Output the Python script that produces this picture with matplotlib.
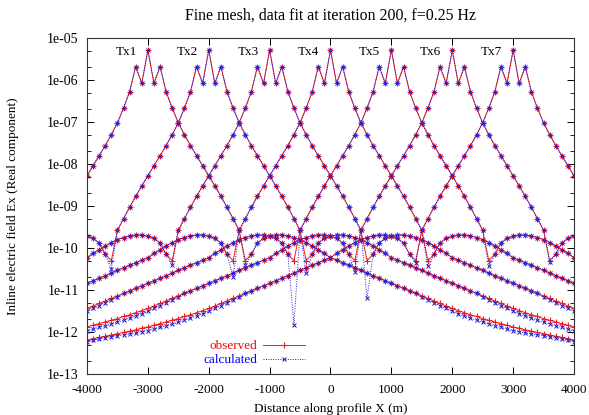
import numpy as np
import matplotlib.pyplot as plt

plt.rcParams['font.family'] = 'Liberation Serif'
plt.rcParams['font.size'] = 9.5
plt.rcParams['axes.unicode_minus'] = False

# receivers every 100 m along the profile
rx_x = np.arange(-4000, 4001, 100)

# transmitter positions (m) and names
tx_x = [-3000, -2000, -1000, 0, 1000, 2000, 3000]
tx_names = ['Tx1', 'Tx2', 'Tx3', 'Tx4', 'Tx5', 'Tx6', 'Tx7']

# observed |Re Ex| vs source-receiver offset 0..7000 m (100 m steps),
# stored as decades below 1e-5
obs_decades = [
    0.29, 1.08, 0.68, 1.28, 1.67, 2.02, 2.30, 2.56, 2.80, 3.04,   # 0-900
    3.28, 3.52, 3.77, 4.03, 4.30, 4.58, 5.30, 5.15, 4.88, 4.77,   # 1000-1900
    4.72, 4.69, 4.69, 4.71, 4.75, 4.80, 4.87, 4.95, 5.04, 5.13,   # 2000-2900
    5.23, 5.29, 5.35, 5.41, 5.47, 5.53, 5.60, 5.66, 5.72, 5.78,   # 3000-3900
    5.84, 5.90, 5.96, 6.02, 6.08, 6.14, 6.20, 6.26, 6.32, 6.38,   # 4000-4900
    6.44, 6.49, 6.54, 6.59, 6.63, 6.68, 6.72, 6.76, 6.80, 6.84,   # 5000-5900
    6.88, 6.91, 6.95, 6.98, 7.01, 7.04, 7.07, 7.10, 7.13, 7.16,   # 6000-6900
    7.19,                                                         # 7000
]

# misfit of the calculated response at long offsets (decades), 4500..7000 m
far_misfit = [0.02, 0.03, 0.04, 0.05, 0.06, 0.07, 0.08, 0.08, 0.08, 0.09,
              0.09, 0.09, 0.09, 0.09, 0.09, 0.09, 0.08, 0.08, 0.07, 0.06,
              0.05, 0.05, 0.04, 0.04, 0.04, 0.04]

# calculated value at the sign-change receiver (1600 m offset) on each side
calc_dip_left = [np.nan, 5.50, 5.40, 5.70, 6.83, 5.56, 5.36]
calc_dip_right = [5.40, 5.60, 6.20, 5.44, 5.44, 5.33, np.nan]

calc_decades = np.array(obs_decades)
calc_decades[45:] += np.array(far_misfit)

fig = plt.figure(figsize=(5.89, 4.15), dpi=100)
ax = fig.add_axes([0.1477, 0.0988, 0.8268, 0.8096])

for i, tx in enumerate(tx_x):
    idx = np.abs(rx_x - tx) // 100
    obs = 10.0 ** (-5 - np.array(obs_decades)[idx])
    calc_l = calc_decades[idx].copy()
    calc_l[rx_x == tx - 1600] = calc_dip_left[i]
    calc_l[rx_x == tx + 1600] = calc_dip_right[i]
    calc = 10.0 ** (-5 - calc_l)

    ax.plot(rx_x, obs, color='#ee1c1c', lw=0.7, marker='+', ms=4, mew=0.8,
            label='observed' if i == 0 else None)
    ax.plot(rx_x, calc, color='#1a1ad8', lw=0.7, ls=(0, (1, 1.5)), marker='x',
            ms=3.5, mew=0.7, label='calculated' if i == 0 else None)
    ax.text(tx - 180, 4.7e-6, tx_names[i], ha='right', va='center')

ax.set_yscale('log')
ax.set_xlim(-4000, 4000)
ax.set_ylim(1e-13, 1e-5)

exps = list(range(5, 14))
ax.set_yticks([10.0 ** -k for k in exps], ['1e-%02d' % k for k in exps])
ax.set_yticks([m * 10.0 ** -k for k in range(6, 14) for m in (2, 5)], minor=True)
ax.set_xticks(range(-4000, 4001, 1000))

ax.tick_params(which='both', direction='in', top=True, right=True)
ax.tick_params(which='major', length=5, width=0.7)
ax.tick_params(which='minor', length=3, width=0.6)
ax.tick_params(axis='y', pad=6, labelsize=10)
ax.tick_params(axis='x', pad=7)
for s in ax.spines.values():
    s.set_linewidth(0.8)
    s.set_color('#333333')

ax.set_title('Fine mesh, data fit at iteration 200, f=0.25 Hz', pad=13)
ax.set_xlabel('Distance along profile X (m)', labelpad=5)
ax.set_ylabel('Inline electric field Ex (Real component)', labelpad=20)

leg = ax.legend(loc='lower left', bbox_to_anchor=(0.22, -0.005), frameon=False,
                markerfirst=False, handlelength=3.2, numpoints=1,
                labelspacing=0.15, borderpad=0.2, handletextpad=0.4)
for t, c in zip(leg.get_texts(), ['red', 'blue']):
    t.set_color(c)

plt.savefig('out.png', dpi=100)
